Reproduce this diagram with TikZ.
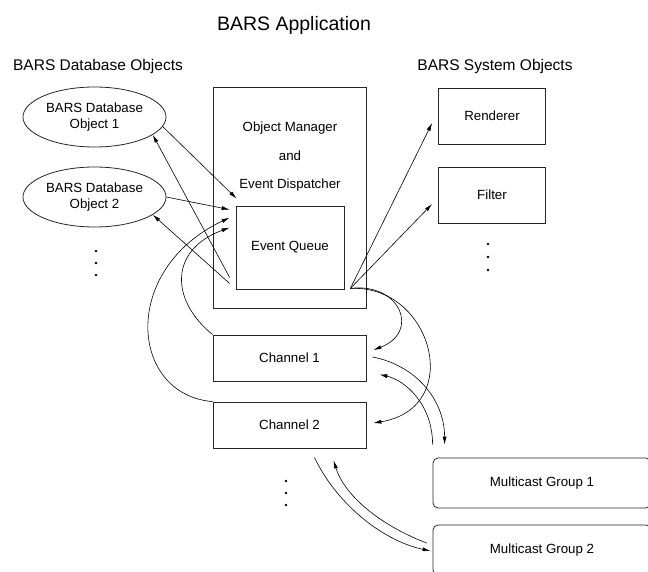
\documentclass[tikz,border=0pt]{standalone}
\usepackage{fontspec}
\setmainfont{Liberation Sans}
\usetikzlibrary{arrows.meta,shapes.geometric,calc}
\newcommand\boxfont{\fontsize{13.3}{16}\selectfont}
\newcommand\labfont{\fontsize{15.5}{18}\selectfont}
\begin{document}
\begin{tikzpicture}[x=1pt,y=-1pt,
    box/.style={draw=black!85,line width=.8pt,inner sep=0pt,font=\boxfont},
    dbobj/.style={box,ellipse,minimum width=143pt,minimum height=60pt,align=center},
    mgroup/.style={box,rounded corners=5pt,minimum width=218pt,minimum height=50pt},
    link/.style={line width=.6pt,-{Latex[length=8pt,width=4pt]}}]
  \useasboundingbox (0,0) rectangle (648,572);
  \clip (0,0) rectangle (648,572);
  \node[font=\fontsize{19.5}{22}\selectfont] (title) at (294,25) {BARS Application};
  \node[font=\labfont] (dbhead) at (98,66) {BARS Database Objects};
  \node[font=\labfont] (syshead) at (495,66) {BARS System Objects};
  \node[dbobj] (db1) at (94.5,117) {BARS Database\\Object 1};
  \node[dbobj] (db2) at (94.5,197) {BARS Database\\Object 2};
  \node[box,minimum width=153pt,minimum height=221pt] (om) at (289.5,197.5) {};
  \node[font=\fontsize{13.3}{28.5}\selectfont,align=center] (omtext) at (290,157) {Object Manager\\and\\Event Dispatcher};
  \node[box,minimum width=108pt,minimum height=83pt] (eq) at (290,247.5) {Event Queue};
  \node[box,minimum width=107pt,minimum height=56pt] (ren) at (492,116) {Renderer};
  \node[box,minimum width=107pt,minimum height=56pt] (fil) at (492,195) {Filter};
  \node[box,minimum width=153pt,minimum height=46pt] (ch1) at (289.5,358) {Channel 1};
  \node[box,minimum width=153pt,minimum height=46pt] (ch2) at (289.5,425) {Channel 2};
  \node[mgroup] (mg1) at (542,483) {Multicast Group 1};
  \node[mgroup] (mg2) at (542,550) {Multicast Group 2};
  \foreach \y in {251,263,275} \fill (96,\y) circle (1.4);
  \foreach \y in {244,257,270} \fill (488,\y) circle (1.4);
  \foreach \y in {481,493,505} \fill (286,\y) circle (1.4);
  \coordinate (qin1) at ($(eq.north west)+(1,-7)$);
  \coordinate (qin2) at ($(eq.north west)+(-6,4)$);
  \coordinate (qin3) at ($(eq.north west)+(-6,12)$);
  \coordinate (qin4) at ($(eq.north west)+(-6,22)$);
  \coordinate (qout1) at ($(eq.south west)+(-6,-12)$);
  \coordinate (qout2) at ($(eq.south west)+(-6,-6)$);
  \coordinate (qout3) at ($(eq.south east)+(6,-1)$);
  \draw[link] (db1.-8) -- (qin1);
  \draw[link] (db2.east) -- (qin2);
  \draw[link] (qout1) -- (db1.-17);
  \draw[link] (qout2) -- (db2.-17);
  \draw[link] (ch1.north west) .. controls +(-43,-35) and +(-60,22) .. (qin4);
  \draw[link] (ch2.north west) .. controls +(-83,-7) and +(-110,52) .. (qin3);
  \draw[link] (qout3) -- ($(ren.west)+(-6,7)$);
  \draw[link] (qout3) -- ($(fil.west)+(-6,9)$);
  \draw[link] (qout3) .. controls +(50,-6) and +(47,-18) .. ($(ch1.east)+(7,-8)$);
  \draw[link] (qout3) .. controls +(82,-4) and +(92,-15) .. ($(ch2.east)+(7,-2)$);
  \draw[link] ($(ch1.east)+(6,-1)$) .. controls +(43,8) and +(0,-45) .. ($(mg1.north west)+(12,-13)$);
  \draw[link] ($(mg1.north west)+(0,-13)$) .. controls +(0,-40) and +(26,6) .. ($(ch1.south east)+(13,-7)$);
  \draw[link] ($(ch2.south)+(25,9)$) .. controls +(20,43) and +(-51,-11) .. ($(mg2.west)+(-2,1)$);
  \draw[link] ($(mg2.west)+(-6,-7)$) .. controls +(-47,-18) and +(11,35) .. ($(ch2.south)+(44,12)$);
\end{tikzpicture}
\end{document}
